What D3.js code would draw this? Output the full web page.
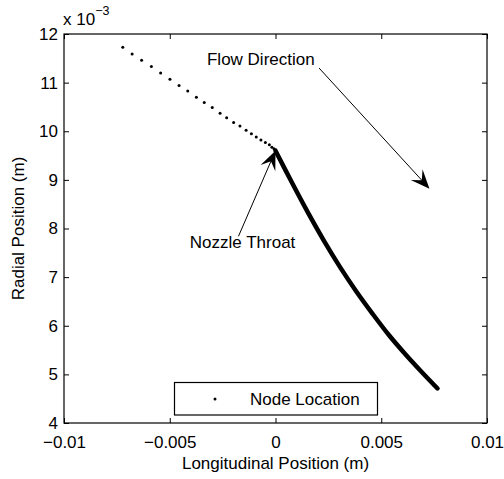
<!DOCTYPE html>
<html>
<head>
<meta charset="UTF-8">
<title>Nozzle Node Locations</title>
<style>
    body { margin: 0; background: #fff; }
    svg text { font-family: "Liberation Sans", Arial, Helvetica, sans-serif; fill: #000; }
    .axis path, .axis line { stroke: #000; }
</style>
</head>
<body>
<svg width="504" height="479"></svg>
<script src="https://cdn.jsdelivr.net/npm/d3@7"></script>
<script>

    // converging section: individual nodes (units of 1e-3 m)
    var convX = [-7.22, -6.78, -6.33, -5.87, -5.43, -4.99, -4.56, -4.15, -3.74, -3.37, -2.99, -2.62,
                 -2.31, -1.98, -1.68, -1.39, -1.14, -0.91, -0.69, -0.48, -0.29, -0.17, -0.07, 0];
    var convY = [11.73, 11.59, 11.46, 11.33, 11.20, 11.07, 10.94, 10.83, 10.70, 10.59, 10.49, 10.37,
                 10.28, 10.18, 10.11, 10.02, 9.95, 9.88, 9.82, 9.77, 9.72, 9.67, 9.64, 9.60];

    // diverging section: nodes are so dense they read as a thick line
    var divX = [0, 0.77, 1.53, 2.30, 3.06, 3.83, 4.60, 5.36, 6.13, 6.89, 7.66];
    var divY = [9.60, 8.95, 8.33, 7.74, 7.20, 6.70, 6.24, 5.81, 5.42, 5.06, 4.71];

    var xTicks = [-0.01, -0.005, 0, 0.005, 0.01];
    var xTickLabels = ["\u22120.01", "\u22120.005", "0", "0.005", "0.01"];
    var yTicks = [4, 5, 6, 7, 8, 9, 10, 11, 12];

    var svg = d3.select("svg");
    var fs = 17;

    var x = d3.scaleLinear().domain([-0.01, 0.01]).range([64, 487]);
    var y = d3.scaleLinear().domain([4, 12]).range([423, 34]);

    svg.append("rect").attr("width", 504).attr("height", 479).attr("fill", "#fff");

    // box
    svg.append("rect")
        .attr("x", x(-0.01)).attr("y", y(12))
        .attr("width", x(0.01) - x(-0.01)).attr("height", y(4) - y(12))
        .attr("fill", "none").attr("stroke", "#000").attr("stroke-width", 1.2);

    // axes (inward ticks)
    var xAxis = svg.append("g").attr("class", "axis")
        .attr("transform", "translate(0," + y(4) + ")")
        .call(d3.axisBottom(x).tickValues(xTicks).tickSizeInner(-5).tickSizeOuter(0)
            .tickFormat(function(d, i) { return xTickLabels[i]; }));
    xAxis.selectAll("text").attr("dy", null).attr("y", 25).style("font-size", fs + "px");
    xAxis.select(".domain").remove();

    svg.append("g").attr("class", "axis")
        .attr("transform", "translate(0," + y(12) + ")")
        .call(d3.axisTop(x).tickValues(xTicks).tickSizeInner(-5).tickSizeOuter(0).tickFormat(""))
        .select(".domain").remove();

    var yAxis = svg.append("g").attr("class", "axis")
        .attr("transform", "translate(" + x(-0.01) + ",0)")
        .call(d3.axisLeft(y).tickValues(yTicks).tickSizeInner(-5).tickSizeOuter(0));
    yAxis.selectAll("text").attr("x", -6).style("font-size", fs + "px");
    yAxis.select(".domain").remove();

    svg.append("g").attr("class", "axis")
        .attr("transform", "translate(" + x(0.01) + ",0)")
        .call(d3.axisRight(y).tickValues(yTicks).tickSizeInner(-5).tickSizeOuter(0).tickFormat(""))
        .select(".domain").remove();

    svg.selectAll(".axis .tick line").attr("stroke", "#000");

    // exponent label
    var ex = svg.append("text").attr("x", 63).attr("y", 25).style("font-size", fs + "px");
    ex.append("tspan").text("x 10");
    ex.append("tspan").attr("dy", -10).style("font-size", "12.5px").text("\u22123");

    // axis titles
    svg.append("text")
        .attr("x", (x(-0.01) + x(0.01)) / 2).attr("y", 469)
        .attr("text-anchor", "middle").style("font-size", fs + "px")
        .text("Longitudinal Position (m)");
    svg.append("text")
        .attr("transform", "translate(24," + (y(4) + y(12)) / 2 + ") rotate(-90)")
        .attr("text-anchor", "middle").style("font-size", fs + "px")
        .text("Radial Position (m)");

    // diverging section
    var divPts = divX.map(function(d, i) { return [d / 1000, divY[i]]; });
    svg.append("path")
        .datum(divPts)
        .attr("d", d3.line()
            .x(function(d) { return x(d[0]); })
            .y(function(d) { return y(d[1]); })
            .curve(d3.curveCatmullRom))
        .attr("fill", "none").attr("stroke", "#000")
        .attr("stroke-width", 4.5).attr("stroke-linecap", "round");

    // converging nodes
    svg.append("g").selectAll("circle")
        .data(convX.map(function(d, i) { return [d / 1000, convY[i]]; }))
        .enter().append("circle")
        .attr("cx", function(d) { return x(d[0]); })
        .attr("cy", function(d) { return y(d[1]); })
        .attr("r", 1.5)
        .attr("fill", "#000");

    // annotations
    function textArrow(x1, y1, x2, y2) {
        var px1 = x(x1), py1 = y(y1), px2 = x(x2), py2 = y(y2);
        var dx = px2 - px1, dy = py2 - py1, len = Math.sqrt(dx * dx + dy * dy);
        var ux = dx / len, uy = dy / len, nx = -uy, ny = ux;
        var L = 19, W = 8;
        svg.append("line")
            .attr("x1", px1).attr("y1", py1)
            .attr("x2", px2 - ux * 9).attr("y2", py2 - uy * 9)
            .attr("stroke", "#000").attr("stroke-width", 1);
        var pts = [
            [px2, py2],
            [px2 - ux * L + nx * W, py2 - uy * L + ny * W],
            [px2 - ux * L * 0.6, py2 - uy * L * 0.6],
            [px2 - ux * L - nx * W, py2 - uy * L - ny * W]
        ];
        svg.append("path")
            .attr("d", "M" + pts.map(function(p) { return p.join(","); }).join("L") + "Z")
            .attr("fill", "#000");
    }

    textArrow(2.06e-3, 11.30, 7.28e-3, 8.82);
    svg.append("text").attr("x", x(-3.24e-3)).attr("y", y(11.37))
        .style("font-size", fs + "px").text("Flow Direction");

    textArrow(-1.75e-3, 7.84, 0, 9.60);
    svg.append("text").attr("x", x(-4.05e-3)).attr("y", y(7.60))
        .style("font-size", fs + "px").text("Nozzle Throat");

    // legend
    var lg = svg.append("g");
    lg.append("rect")
        .attr("x", 174.5).attr("y", 382.5).attr("width", 203).attr("height", 32.5)
        .attr("fill", "#fff").attr("stroke", "#000").attr("stroke-width", 1.2);
    lg.append("circle").attr("cx", 215).attr("cy", 399).attr("r", 1.5).attr("fill", "#000");
    lg.append("text").attr("x", 250).attr("y", 405).style("font-size", fs + "px").text("Node Location");

</script>
</body>
</html>
